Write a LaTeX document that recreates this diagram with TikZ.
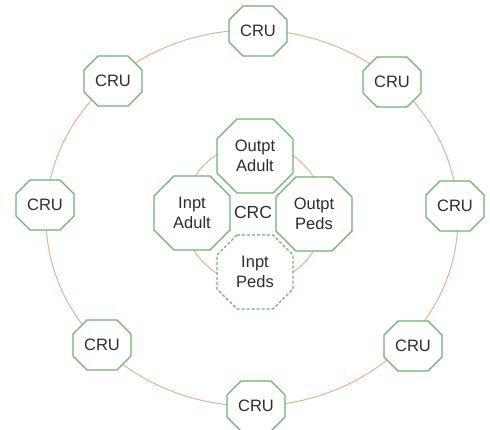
\documentclass[tikz,border=0pt]{standalone}
\usepackage{fontspec}
\setmainfont{Liberation Sans}
\definecolor{octgreen}{RGB}{112,176,112}
\definecolor{ringtan}{RGB}{228,178,150}
\definecolor{txt}{RGB}{45,45,45}
\newcommand\octoat[7]{% style, name, center, half width, half height, chamfer, text
  \draw[#1, shift={(#3)}] (-#4+#6,-#5) -- (#4-#6,-#5) -- (#4,-#5+#6) -- (#4,#5-#6)
     -- (#4-#6,#5) -- (-#4+#6,#5) -- (-#4,#5-#6) -- (-#4,-#5+#6) -- cycle;
  \node[label] (#2) at (#3) {#7};}
\begin{document}
\begin{tikzpicture}[x=1pt,y=-1pt,
  octo/.style={draw=octgreen, line width=1.3pt, fill=white, line join=miter},
  dashedocto/.style={octo, dash pattern=on 3pt off 2pt},
  label/.style={text=txt, font=\fontsize{16.5}{20}\selectfont, align=center, inner sep=0pt},
  ring/.style={draw=ringtan, line width=1pt}]
\useasboundingbox (0,0) rectangle (490,430);
\draw[ring] (252,218) ellipse [x radius=206, y radius=188];
\octoat{octo}{c1}{258,31}{29}{25}{14}{CRU}
\octoat{octo}{c2}{392,82}{29}{25}{14}{CRU}
\octoat{octo}{c3}{455,206}{29}{25}{14}{CRU}
\octoat{octo}{c4}{413,346}{29}{25}{14}{CRU}
\octoat{octo}{c5}{256,406}{29}{25}{14}{CRU}
\octoat{octo}{c6}{102,345}{29}{25}{14}{CRU}
\octoat{octo}{c7}{45,205}{29}{25}{14}{CRU}
\octoat{octo}{c8}{113,81}{29}{25}{14}{CRU}
\draw[ring] (254,214) circle [radius=70];
\octoat{octo}{oa}{255,156}{38}{37}{20}{Outpt\\Adult}
\octoat{octo}{ia}{192,213}{38}{37}{20}{Inpt\\Adult}
\octoat{octo}{op}{314,214}{38}{37}{20}{Outpt\\Peds}
\octoat{dashedocto}{ip}{255,272}{38}{37}{20}{Inpt\\Peds}
\node[label, font=\fontsize{17.5}{20}\selectfont] (crc) at (253,212) {CRC};
\end{tikzpicture}
\end{document}
